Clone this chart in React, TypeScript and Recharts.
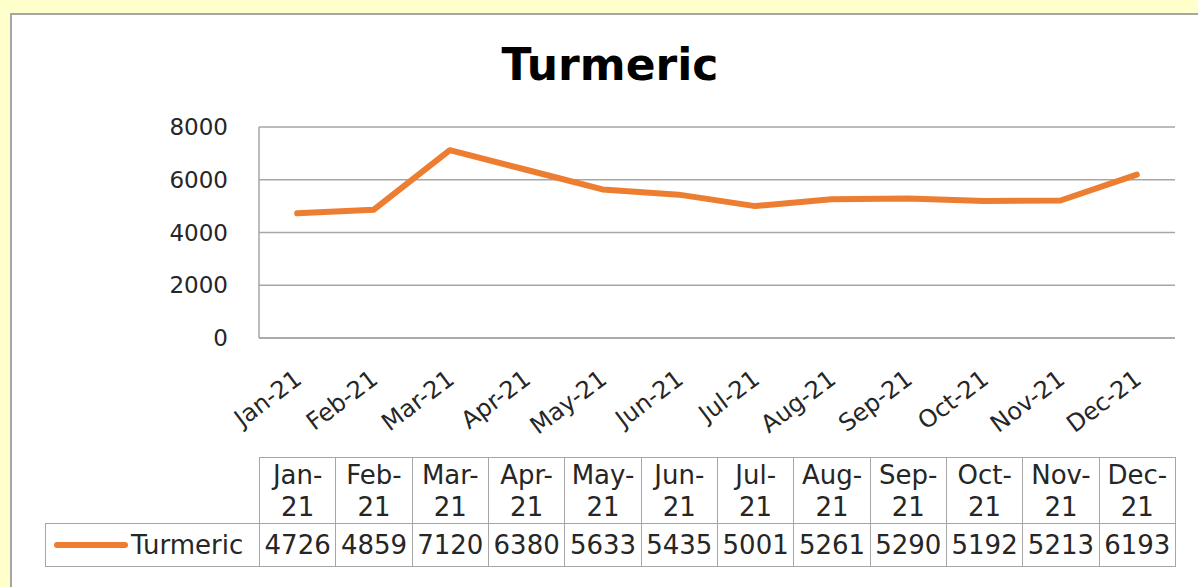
import React from "react"
import { LineChart, Line, XAxis, YAxis, CartesianGrid } from "recharts"

const categories = ["Jan-21", "Feb-21", "Mar-21", "Apr-21", "May-21", "Jun-21", "Jul-21", "Aug-21", "Sep-21", "Oct-21", "Nov-21", "Dec-21"]
const turmeric = [4726, 4859, 7120, 6380, 5633, 5435, 5001, 5261, 5290, 5192, 5213, 6193]
const yTicks = [0, 2000, 4000, 6000, 8000]

const seriesName = "Turmeric"
const lineColor = "#ED7D31"
const gridColor = "#A6A6A6"
const font = "'DejaVu Sans', sans-serif"

// half of a category band, so points sit in the middle of each table column
const halfBand = 916 / 12 / 2

function AngledTick({ x, y, payload }: any) {
  return (
    <g transform={`translate(${x + 6},${y + 42})`}>
      <text textAnchor="end" transform="rotate(-37)" fontSize={24} fill="#262626" fontFamily={font}>
        {payload.value}
      </text>
    </g>
  )
}

export default function App() {
  const chartData = categories.map((month, i) => ({ month, value: turmeric[i] }))

  const cell: React.CSSProperties = {
    border: `1.5px solid ${gridColor}`,
    textAlign: "center",
    padding: 0,
  }

  return (
    <div style={{ position: "fixed", left: 0, top: 0, width: 1198, height: 587, background: "#FFFFCC", overflow: "hidden", fontFamily: font }}>
      <div style={{ position: "absolute", left: 10, top: 13, width: 1210, height: 600, background: "#fff", border: "2px solid #A6A6A6" }} />

      <div style={{ position: "absolute", left: 0, top: 43, width: 1220, textAlign: "center", fontSize: 44, lineHeight: "44px", fontWeight: "bold", color: "#000" }}>
        {seriesName}
      </div>

      <div style={{ position: "absolute", left: 0, top: 0 }}>
        <LineChart width={1198} height={587} data={chartData} margin={{ top: 127, right: 23, bottom: 219, left: 159 }}>
          <CartesianGrid vertical={false} stroke={gridColor} strokeWidth={1.5} />
          <XAxis
            dataKey="month"
            height={30}
            tickLine={false}
            tickSize={0}
            padding={{ left: halfBand, right: halfBand }}
            axisLine={{ stroke: gridColor, strokeWidth: 1.5 }}
            tick={<AngledTick />}
            interval={0}
          />
          <YAxis
            width={100}
            domain={[0, 8000]}
            ticks={yTicks}
            tickLine={false}
            tickSize={0}
            tickMargin={31}
            axisLine={{ stroke: gridColor, strokeWidth: 1.5 }}
            tick={{ fill: "#262626", fontSize: 23, fontFamily: font }}
          />
          <Line
            type="linear"
            dataKey="value"
            stroke={lineColor}
            strokeWidth={6}
            strokeLinecap="round"
            strokeLinejoin="round"
            dot={false}
            isAnimationActive={false}
          />
        </LineChart>
      </div>

      <table
        style={{
          position: "absolute",
          left: 45,
          top: 457,
          width: 1130,
          borderCollapse: "collapse",
          tableLayout: "fixed",
          fontSize: 26,
          color: "#262626",
        }}
      >
        <colgroup>
          <col style={{ width: 214 }} />
          {categories.map((c) => (
            <col key={c} style={{ width: 916 / 12 }} />
          ))}
        </colgroup>
        <tbody>
          <tr style={{ height: 66 }}>
            <td style={{ border: "none", padding: 0 }} />
            {categories.map((c) => {
              const [m, yr] = c.split("-")
              return (
                <td key={c} style={{ ...cell, lineHeight: "32px" }}>
                  {m}-
                  <br />
                  {yr}
                </td>
              )
            })}
          </tr>
          <tr style={{ height: 43 }}>
            <td style={{ ...cell, textAlign: "left" }}>
              <div style={{ display: "flex", alignItems: "center", paddingLeft: 7 }}>
                <svg width={76} height={10} style={{ marginRight: 2 }}>
                  <line x1={4} y1={5} x2={72} y2={5} stroke={lineColor} strokeWidth={6} strokeLinecap="round" />
                </svg>
                <span>{seriesName}</span>
              </div>
            </td>
            {turmeric.map((v, i) => (
              <td key={categories[i]} style={cell}>
                {v}
              </td>
            ))}
          </tr>
        </tbody>
      </table>
    </div>
  )
}
